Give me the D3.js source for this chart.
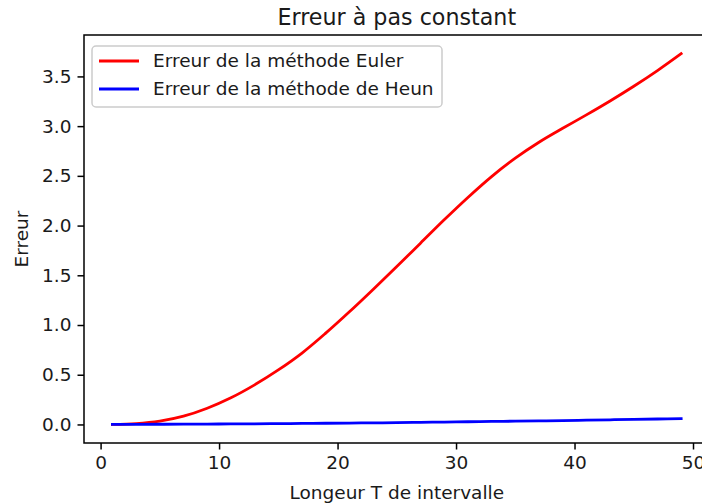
<!DOCTYPE html>
<html>
<head>
<meta charset="utf-8">
<script src="https://cdn.jsdelivr.net/npm/d3@7"></script>
<style>
  body { margin: 0; background: #fff; }
  svg { font-family: "DejaVu Sans", sans-serif; }
</style>
</head>
<body>
<div id="chart"></div>
<script>
const FRAME_WIDTH = 702;
const FRAME_HEIGHT = 504;
// axes box, right spine falls just outside the picture
const AX = {left: 84, top: 35, right: 709.6, bottom: 443};

// data
const T_VALUES = [1, 3, 5, 7, 9, 11, 13, 15, 17, 19, 21, 23, 25, 27, 29, 31, 33, 35, 37, 39, 41, 43, 45, 47, 49];
const EULER_ERR = [0.000, 0.008, 0.033, 0.083, 0.163, 0.268, 0.398, 0.548, 0.718, 0.918, 1.133, 1.358, 1.588,
                   1.823, 2.058, 2.283, 2.493, 2.678, 2.838, 2.978, 3.113, 3.253, 3.401, 3.559, 3.729];
const HEUN_ERR = [0.000, 0.001, 0.002, 0.003, 0.004, 0.005, 0.006, 0.008, 0.010, 0.012, 0.014, 0.016, 0.018,
                  0.021, 0.024, 0.027, 0.030, 0.033, 0.036, 0.039, 0.043, 0.047, 0.051, 0.055, 0.059];
const X_TICKS = [0, 10, 20, 30, 40, 50];
const Y_TICKS = [0.0, 0.5, 1.0, 1.5, 2.0, 2.5, 3.0, 3.5];
const SERIES_NAMES = ["Erreur de la méthode Euler", "Erreur de la méthode de Heun"];
const SERIES_COLORS = ["#ff0000", "#0000ff"];

const FONT = 18.5;

const svg = d3.select("#chart")
    .append("svg")
      .attr("width", FRAME_WIDTH)
      .attr("height", FRAME_HEIGHT);

// scales (matplotlib style 5% margins)
const X_SCALE = d3.scaleLinear()
    .domain([-1.4, 51.4])
    .range([AX.left, AX.right]);

const Y_SCALE = d3.scaleLinear()
    .domain([-0.1865, 3.9165])
    .range([AX.bottom, AX.top]);

// lines
const line = d3.line()
    .x((d) => X_SCALE(d[0]))
    .y((d) => Y_SCALE(d[1]))
    .curve(d3.curveCatmullRom);

const seriesData = [EULER_ERR, HEUN_ERR].map((vals) => T_VALUES.map((t, i) => [t, vals[i]]));

svg.selectAll("path.series")
    .data(seriesData)
    .enter()
    .append("path")
      .attr("class", "series")
      .attr("d", line)
      .attr("fill", "none")
      .attr("stroke", (d, i) => SERIES_COLORS[i])
      .attr("stroke-width", 2.8)
      .attr("stroke-linecap", "square");

// x axis
const xAxis = svg.append("g")
    .attr("transform", "translate(0," + AX.bottom + ")")
    .call(d3.axisBottom(X_SCALE).tickValues(X_TICKS).tickFormat(d3.format("d"))
          .tickSize(6.5).tickPadding(6).tickSizeOuter(0));

// y axis
const yAxis = svg.append("g")
    .attr("transform", "translate(" + AX.left + ",0)")
    .call(d3.axisLeft(Y_SCALE).tickValues(Y_TICKS).tickFormat(d3.format(".1f"))
          .tickSize(6.5).tickPadding(6).tickSizeOuter(0));

[xAxis, yAxis].forEach((g) => {
  g.select(".domain").remove();
  g.selectAll(".tick line").attr("stroke", "#000").attr("stroke-width", 1.5);
  g.selectAll(".tick text")
    .attr("font-family", "DejaVu Sans")
    .attr("font-size", FONT)
    .attr("fill", "#1a1a1a");
});

// spines
svg.append("rect")
    .attr("x", AX.left)
    .attr("y", AX.top)
    .attr("width", AX.right - AX.left)
    .attr("height", AX.bottom - AX.top)
    .attr("fill", "none")
    .attr("stroke", "#000")
    .attr("stroke-width", 1.5);

// title and axis labels
svg.append("text")
    .attr("x", (AX.left + AX.right) / 2)
    .attr("y", 25)
    .attr("text-anchor", "middle")
    .attr("font-size", 22.2)
    .attr("fill", "#1a1a1a")
    .text("Erreur à pas constant");

svg.append("text")
    .attr("x", (AX.left + AX.right) / 2)
    .attr("y", 499)
    .attr("text-anchor", "middle")
    .attr("font-size", FONT)
    .attr("fill", "#1a1a1a")
    .text("Longeur T de intervalle");

svg.append("text")
    .attr("transform", "translate(28," + (AX.top + AX.bottom) / 2 + ") rotate(-90)")
    .attr("text-anchor", "middle")
    .attr("font-size", FONT)
    .attr("fill", "#1a1a1a")
    .text("Erreur");

// legend
const legend = svg.append("g").attr("transform", "translate(92,46)");

legend.append("rect")
    .attr("width", 350)
    .attr("height", 61)
    .attr("rx", 4)
    .attr("fill", "#fff")
    .attr("fill-opacity", 0.8)
    .attr("stroke", "#cccccc")
    .attr("stroke-width", 1.5);

const items = legend.selectAll("g.item")
    .data(SERIES_NAMES)
    .enter()
    .append("g")
      .attr("class", "item")
      .attr("transform", (d, i) => "translate(0," + (15 + i * 28) + ")");

items.append("line")
    .attr("x1", 7).attr("x2", 47)
    .attr("stroke", (d, i) => SERIES_COLORS[i])
    .attr("stroke-width", 2.8);

items.append("text")
    .attr("x", 61)
    .attr("dy", "0.35em")
    .attr("font-size", FONT)
    .attr("fill", "#1a1a1a")
    .text((d) => d);
</script>
</body>
</html>
